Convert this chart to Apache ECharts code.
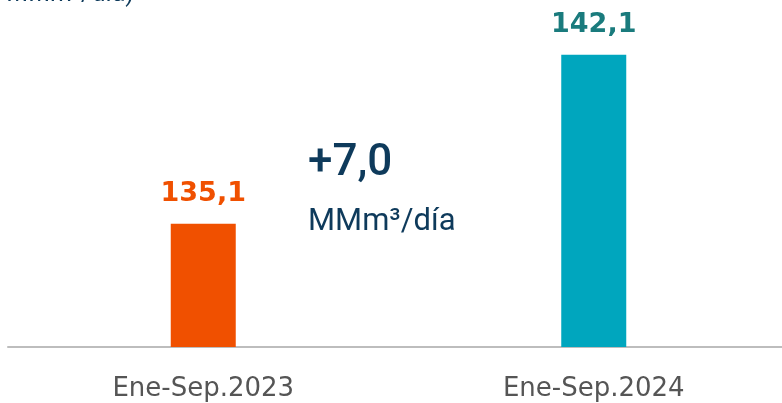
<!DOCTYPE html>
<html>
<head>
<meta charset="utf-8">
<script src="https://cdn.jsdelivr.net/npm/echarts@6/dist/echarts.min.js"></script>
<style>
  html, body { margin: 0; padding: 0; background: #ffffff; }
  #chart { width: 782px; height: 403px; }
</style>
</head>
<body>
<div id="chart"></div>
<script>
// Gas production, January–September averages (MMm³/día)
const categories = ['Ene-Sep.2023', 'Ene-Sep.2024'];
const values = [135.1, 142.1];
const barColors = ['#F05000', '#00A6BE'];
const labelColors = ['#F05000', '#1A7B7D'];
const unitText = 'MMm³/día';
const titleText = '(en MMm³/día)';

const fmt = v => v.toFixed(1).replace('.', ',');
const delta = values[1] - values[0];
const deltaText = (delta >= 0 ? '+' : '') + fmt(delta);

const navy = '#0E3A5B';
const chart = echarts.init(document.getElementById('chart'));

chart.setOption({
  animation: false,
  grid: { left: 8, width: 781, top: 9, bottom: 56, outerBoundsMode: 'none', containLabel: false },
  xAxis: {
    type: 'category',
    data: categories,
    axisTick: { show: false },
    axisLine: { lineStyle: { color: '#BDBDBD', width: 2 } },
    axisLabel: {
      color: '#555555',
      fontFamily: 'DejaVu Sans',
      fontSize: 26,
      margin: 29
    }
  },
  yAxis: {
    type: 'value',
    min: 130,
    max: 144,
    show: false,
    splitLine: { show: false }
  },
  series: [{
    type: 'bar',
    barWidth: 65,
    data: values.map((v, i) => ({
      value: v,
      itemStyle: { color: barColors[i] },
      label: { color: labelColors[i] }
    })),
    label: {
      show: true,
      position: 'top',
      distance: 16,
      fontFamily: 'DejaVu Sans',
      fontWeight: 'bold',
      fontSize: 27,
      formatter: p => fmt(p.value)
    }
  }],
  graphic: [
    {
      type: 'text',
      x: 134, y: -5,
      style: {
        text: titleText,
        fill: navy,
        font: '25px Roboto',
        align: 'right',
        verticalAlign: 'middle'
      }
    },
    {
      type: 'text',
      x: 308, y: 164,
      style: {
        text: deltaText,
        fill: navy,
        font: '500 44px Roboto',
        align: 'left',
        verticalAlign: 'middle'
      }
    },
    {
      type: 'text',
      x: 308, y: 222,
      style: {
        text: unitText,
        fill: navy,
        font: '31px Roboto',
        align: 'left',
        verticalAlign: 'middle'
      }
    }
  ]
});
</script>
</body>
</html>
